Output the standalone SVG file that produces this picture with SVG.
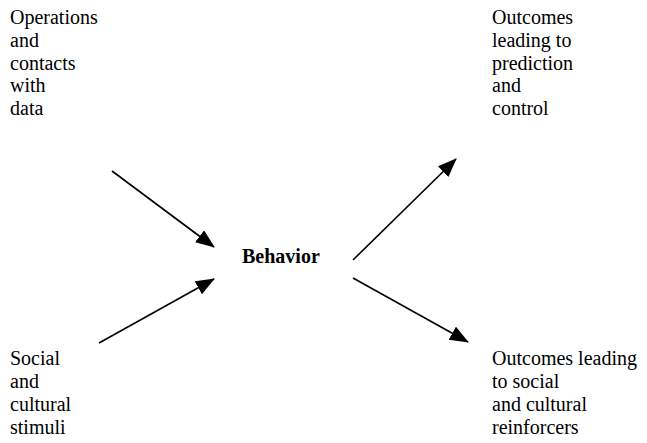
<svg xmlns="http://www.w3.org/2000/svg" width="647" height="443" viewBox="0 0 647 443" font-family="'Liberation Serif', Tinos, 'Times New Roman', 'DejaVu Serif', serif">
<style>
text{font-family:'Liberation Serif',Tinos,'Times New Roman','DejaVu Serif',serif;font-size:20px;fill:#000}
.b{font-weight:bold}
.c{stroke:#000;stroke-width:1.6;fill:none}
</style>
<defs>
<marker id="ah" markerUnits="userSpaceOnUse" markerWidth="20" markerHeight="16" refX="18" refY="7.5" orient="auto">
<path d="M0,0 L19,7.5 L0,15 z" fill="#000"/>
</marker>
</defs>
<rect width="647" height="443" fill="#fff"/>
<g id="ops">
<text x="10" y="24">Operations</text>
<text x="10" y="46.8">and</text>
<text x="10" y="69.6">contacts</text>
<text x="10" y="92.4">with</text>
<text x="10" y="115.2">data</text>
</g>
<g id="social">
<text x="10" y="364.5">Social</text>
<text x="10" y="387.7">and</text>
<text x="10" y="410.9">cultural</text>
<text x="10" y="434.1">stimuli</text>
</g>
<g id="behavior">
<text class="b" x="242" y="263">Behavior</text>
</g>
<g id="outPred">
<text x="492" y="24">Outcomes</text>
<text x="492" y="46.8">leading to</text>
<text x="492" y="69.6">prediction</text>
<text x="492" y="92.4">and</text>
<text x="492" y="115.2">control</text>
</g>
<g id="outSoc">
<text x="492" y="364.5">Outcomes leading</text>
<text x="492" y="387.7">to social</text>
<text x="492" y="410.9">and cultural</text>
<text x="492" y="434.1">reinforcers</text>
</g>
<g id="connectors">
<line class="c" x1="112" y1="171" x2="214" y2="247" marker-end="url(#ah)"/>
<line class="c" x1="99" y1="343" x2="214" y2="279" marker-end="url(#ah)"/>
<line class="c" x1="353" y1="260" x2="456" y2="159" marker-end="url(#ah)"/>
<line class="c" x1="353" y1="278" x2="468" y2="342" marker-end="url(#ah)"/>
</g>
</svg>
